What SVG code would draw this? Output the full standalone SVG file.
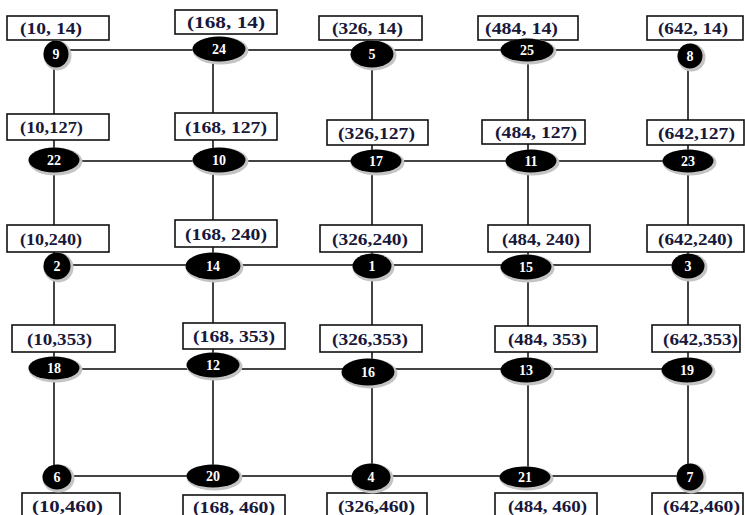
<svg xmlns="http://www.w3.org/2000/svg" width="745" height="515" viewBox="0 0 745 515">
<style>
.edge{stroke:#444;stroke-width:2;fill:none}
.box{fill:#fff;stroke:#111;stroke-width:1.6}
.lbl{font-family:"Liberation Serif","Times New Roman",serif;font-weight:bold;font-size:16px;fill:#18183a}
.sh{fill:#c4c4c4}
.nd{fill:#000}
.num{font-family:"Liberation Serif","Times New Roman",serif;font-weight:bold;font-size:14px;fill:#fff;text-anchor:middle}
</style>
<rect width="745" height="515" fill="#fff"/>
<g id="connectors">
<line class="edge" x1="54" y1="52" x2="54" y2="476"/>
<line class="edge" x1="213" y1="50" x2="213" y2="476"/>
<line class="edge" x1="372" y1="52" x2="372" y2="476"/>
<line class="edge" x1="528" y1="50" x2="528" y2="476"/>
<line class="edge" x1="688" y1="52" x2="688" y2="476"/>
<line class="edge" x1="56" y1="50" x2="690" y2="50"/>
<line class="edge" x1="54" y1="161" x2="688" y2="161"/>
<line class="edge" x1="57" y1="265" x2="688" y2="265"/>
<line class="edge" x1="54" y1="369" x2="687" y2="369"/>
<line class="edge" x1="57" y1="476" x2="690" y2="476"/>
</g>
<g id="labels">
<g id="l-10-14"><rect class="box" x="7" y="16" width="102" height="24"/><text class="lbl" x="20" y="34" textLength="62" lengthAdjust="spacingAndGlyphs">(10, 14)</text></g>
<g id="l-168-14"><rect class="box" x="175" y="10" width="102" height="24"/><text class="lbl" x="187" y="28" textLength="78" lengthAdjust="spacingAndGlyphs">(168, 14)</text></g>
<g id="l-326-14"><rect class="box" x="319" y="16" width="103" height="24"/><text class="lbl" x="332" y="34" textLength="71" lengthAdjust="spacingAndGlyphs">(326, 14)</text></g>
<g id="l-484-14"><rect class="box" x="478" y="16" width="100" height="24"/><text class="lbl" x="485" y="34" textLength="73" lengthAdjust="spacingAndGlyphs">(484, 14)</text></g>
<g id="l-642-14"><rect class="box" x="647" y="16" width="96" height="24"/><text class="lbl" x="658" y="34" textLength="70" lengthAdjust="spacingAndGlyphs">(642, 14)</text></g>

<g id="l-10-127"><rect class="box" x="7" y="114" width="102" height="26"/><text class="lbl" x="20" y="133" textLength="63" lengthAdjust="spacingAndGlyphs">(10,127)</text></g>
<g id="l-168-127"><rect class="box" x="175" y="113" width="102" height="27"/><text class="lbl" x="185" y="133" textLength="82" lengthAdjust="spacingAndGlyphs">(168, 127)</text></g>
<g id="l-326-127"><rect class="box" x="327" y="120" width="101" height="25"/><text class="lbl" x="338" y="139" textLength="77" lengthAdjust="spacingAndGlyphs">(326,127)</text></g>
<g id="l-484-127"><rect class="box" x="482" y="120" width="103" height="24"/><text class="lbl" x="495" y="138" textLength="82" lengthAdjust="spacingAndGlyphs">(484, 127)</text></g>
<g id="l-642-127"><rect class="box" x="647" y="120" width="97" height="25"/><text class="lbl" x="658" y="139" textLength="77" lengthAdjust="spacingAndGlyphs">(642,127)</text></g>

<g id="l-10-240"><rect class="box" x="7" y="225" width="102" height="27"/><text class="lbl" x="20" y="245" textLength="62" lengthAdjust="spacingAndGlyphs">(10,240)</text></g>
<g id="l-168-240"><rect class="box" x="175" y="220" width="102" height="27"/><text class="lbl" x="185" y="240" textLength="82" lengthAdjust="spacingAndGlyphs">(168, 240)</text></g>
<g id="l-326-240"><rect class="box" x="320" y="225" width="102" height="27"/><text class="lbl" x="332" y="245" textLength="76" lengthAdjust="spacingAndGlyphs">(326,240)</text></g>
<g id="l-484-240"><rect class="box" x="488" y="225" width="102" height="27"/><text class="lbl" x="502" y="245" textLength="78" lengthAdjust="spacingAndGlyphs">(484, 240)</text></g>
<g id="l-642-240"><rect class="box" x="647" y="225" width="97" height="27"/><text class="lbl" x="658" y="245" textLength="75" lengthAdjust="spacingAndGlyphs">(642,240)</text></g>

<g id="l-10-353"><rect class="box" x="12" y="325" width="103" height="27"/><text class="lbl" x="27" y="345" textLength="65" lengthAdjust="spacingAndGlyphs">(10,353)</text></g>
<g id="l-168-353"><rect class="box" x="183" y="323" width="102" height="26"/><text class="lbl" x="193" y="342" textLength="82" lengthAdjust="spacingAndGlyphs">(168, 353)</text></g>
<g id="l-326-353"><rect class="box" x="320" y="325" width="102" height="27"/><text class="lbl" x="332" y="345" textLength="76" lengthAdjust="spacingAndGlyphs">(326,353)</text></g>
<g id="l-484-353"><rect class="box" x="495" y="326" width="102" height="26"/><text class="lbl" x="508" y="345" textLength="79" lengthAdjust="spacingAndGlyphs">(484, 353)</text></g>
<g id="l-642-353"><rect class="box" x="652" y="325" width="88" height="27"/><text class="lbl" x="663" y="345" textLength="75" lengthAdjust="spacingAndGlyphs">(642,353)</text></g>

<g id="l-10-460"><rect class="box" x="22" y="493" width="98" height="26"/><text class="lbl" x="32" y="512" textLength="71" lengthAdjust="spacingAndGlyphs">(10,460)</text></g>
<g id="l-168-460"><rect class="box" x="183" y="495" width="102" height="26"/><text class="lbl" x="193" y="513" textLength="82" lengthAdjust="spacingAndGlyphs">(168, 460)</text></g>
<g id="l-326-460"><rect class="box" x="327" y="493" width="100" height="26"/><text class="lbl" x="338" y="512" textLength="77" lengthAdjust="spacingAndGlyphs">(326,460)</text></g>
<g id="l-484-460"><rect class="box" x="495" y="493" width="102" height="26"/><text class="lbl" x="508" y="512" textLength="79" lengthAdjust="spacingAndGlyphs">(484, 460)</text></g>
<g id="l-642-460"><rect class="box" x="652" y="493" width="91" height="26"/><text class="lbl" x="663" y="512" textLength="77" lengthAdjust="spacingAndGlyphs">(642,460)</text></g>
</g>
<g id="nodes">
<g id="n9"><ellipse class="sh" cx="57.5" cy="55.5" rx="14" ry="15"/><ellipse class="nd" cx="56" cy="54" rx="12.5" ry="13.5"/><text class="num" x="56" y="59">9</text></g>
<g id="n24"><ellipse class="sh" cx="220.5" cy="50.5" rx="28" ry="14"/><ellipse class="nd" cx="219" cy="49" rx="26.5" ry="12.5"/><text class="num" x="219" y="54">24</text></g>
<g id="n5"><ellipse class="sh" cx="373.5" cy="55.5" rx="23" ry="15"/><ellipse class="nd" cx="372" cy="54" rx="21.5" ry="13.5"/><text class="num" x="372" y="59">5</text></g>
<g id="n25"><ellipse class="sh" cx="528.5" cy="51.5" rx="28" ry="13"/><ellipse class="nd" cx="527" cy="50" rx="26.5" ry="11.5"/><text class="num" x="527" y="55">25</text></g>
<g id="n8"><ellipse class="sh" cx="691.5" cy="57.5" rx="14" ry="14"/><ellipse class="nd" cx="690" cy="56" rx="12.5" ry="12.5"/><text class="num" x="690" y="61">8</text></g>

<g id="n22"><ellipse class="sh" cx="55.5" cy="161.5" rx="27" ry="14"/><ellipse class="nd" cx="54" cy="160" rx="25.5" ry="12.5"/><text class="num" x="54" y="165">22</text></g>
<g id="n10"><ellipse class="sh" cx="220.5" cy="161.5" rx="28" ry="14"/><ellipse class="nd" cx="219" cy="160" rx="26.5" ry="12.5"/><text class="num" x="219" y="165">10</text></g>
<g id="n17"><ellipse class="sh" cx="377.5" cy="162.5" rx="27" ry="13"/><ellipse class="nd" cx="376" cy="161" rx="25.5" ry="11.5"/><text class="num" x="376" y="166">17</text></g>
<g id="n11"><ellipse class="sh" cx="532.5" cy="162.5" rx="27" ry="13"/><ellipse class="nd" cx="531" cy="161" rx="25.5" ry="11.5"/><text class="num" x="531" y="166">11</text></g>
<g id="n23"><ellipse class="sh" cx="689.5" cy="162.5" rx="27" ry="13"/><ellipse class="nd" cx="688" cy="161" rx="25.5" ry="11.5"/><text class="num" x="688" y="166">23</text></g>

<g id="n2"><ellipse class="sh" cx="58.5" cy="267.5" rx="15" ry="15"/><ellipse class="nd" cx="57" cy="266" rx="13.5" ry="13.5"/><text class="num" x="57" y="271">2</text></g>
<g id="n14"><ellipse class="sh" cx="214.5" cy="267.5" rx="29" ry="15"/><ellipse class="nd" cx="213" cy="266" rx="27.5" ry="13.5"/><text class="num" x="213" y="271">14</text></g>
<g id="n1"><ellipse class="sh" cx="373.5" cy="267.5" rx="21" ry="14"/><ellipse class="nd" cx="372" cy="266" rx="19.5" ry="12.5"/><text class="num" x="372" y="271">1</text></g>
<g id="n15"><ellipse class="sh" cx="527.5" cy="268.5" rx="27" ry="14"/><ellipse class="nd" cx="526" cy="267" rx="25.5" ry="12.5"/><text class="num" x="526" y="272">15</text></g>
<g id="n3"><ellipse class="sh" cx="689.5" cy="267.5" rx="18" ry="14"/><ellipse class="nd" cx="688" cy="266" rx="16.5" ry="12.5"/><text class="num" x="688" y="271">3</text></g>

<g id="n18"><ellipse class="sh" cx="55.5" cy="369.5" rx="27" ry="13"/><ellipse class="nd" cx="54" cy="368" rx="25.5" ry="11.5"/><text class="num" x="54" y="373">18</text></g>
<g id="n12"><ellipse class="sh" cx="214.5" cy="366.5" rx="28" ry="14"/><ellipse class="nd" cx="213" cy="365" rx="26.5" ry="12.5"/><text class="num" x="213" y="370">12</text></g>
<g id="n16"><ellipse class="sh" cx="369.5" cy="373.5" rx="28" ry="15"/><ellipse class="nd" cx="368" cy="372" rx="26.5" ry="13.5"/><text class="num" x="368" y="377">16</text></g>
<g id="n13"><ellipse class="sh" cx="527.5" cy="371.5" rx="27" ry="14"/><ellipse class="nd" cx="526" cy="370" rx="25.5" ry="12.5"/><text class="num" x="526" y="375">13</text></g>
<g id="n19"><ellipse class="sh" cx="688.5" cy="371.5" rx="27" ry="14"/><ellipse class="nd" cx="687" cy="370" rx="25.5" ry="12.5"/><text class="num" x="687" y="375">19</text></g>

<g id="n6"><ellipse class="sh" cx="58.5" cy="478.5" rx="16" ry="14"/><ellipse class="nd" cx="57" cy="477" rx="14.5" ry="12.5"/><text class="num" x="57" y="482">6</text></g>
<g id="n20"><ellipse class="sh" cx="214.5" cy="477.5" rx="28" ry="13"/><ellipse class="nd" cx="213" cy="476" rx="26.5" ry="11.5"/><text class="num" x="213" y="481">20</text></g>
<g id="n4"><ellipse class="sh" cx="372.5" cy="478.5" rx="21" ry="15"/><ellipse class="nd" cx="371" cy="477" rx="19.5" ry="13.5"/><text class="num" x="371" y="482">4</text></g>
<g id="n21"><ellipse class="sh" cx="526.5" cy="478.5" rx="27" ry="12"/><ellipse class="nd" cx="525" cy="477" rx="25.5" ry="10.5"/><text class="num" x="525" y="482">21</text></g>
<g id="n7"><ellipse class="sh" cx="691.5" cy="478.5" rx="15" ry="15"/><ellipse class="nd" cx="690" cy="477" rx="13.5" ry="13.5"/><text class="num" x="690" y="482">7</text></g>
</g>
</svg>
